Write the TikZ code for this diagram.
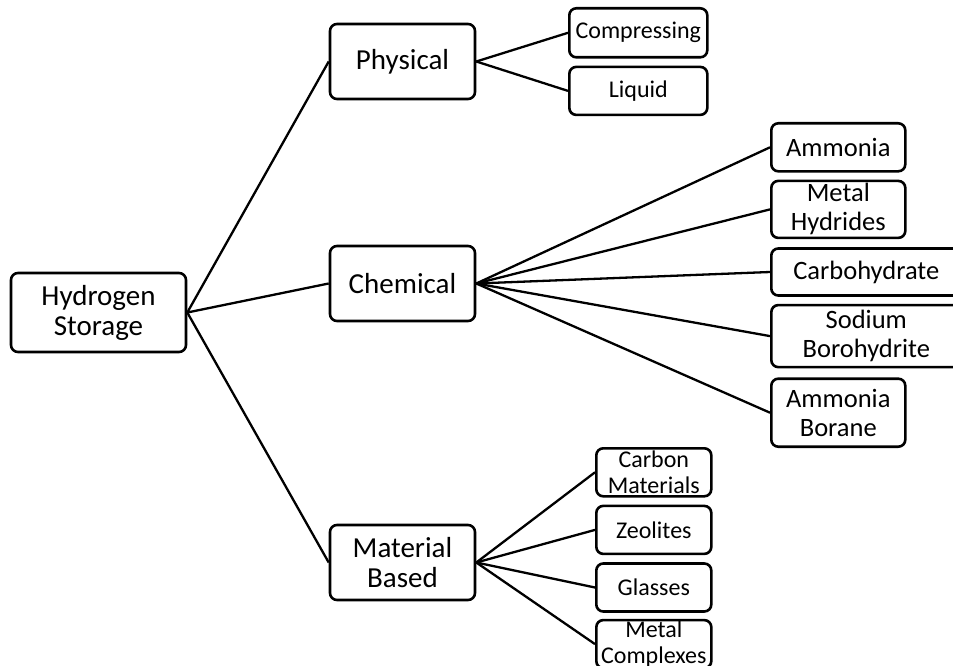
\documentclass[tikz,border=0pt]{standalone}
\usepackage{fontspec}
\setmainfont{Carlito}
\usetikzlibrary{positioning}
\tikzset{
  nodebox/.style={draw, line width=2.6pt, rounded corners=7pt, fill=white,
                  align=center, inner sep=0pt},
  mainbox/.style={nodebox, minimum width=145pt, minimum height=75pt,
                  font=\fontsize{29}{30}\selectfont},
  chembox/.style={nodebox, minimum width=134pt, font=\fontsize{26.5}{29}\selectfont},
  leafbox/.style={nodebox, minimum height=48pt, font=\fontsize{24}{26}\selectfont},
  link/.style={line width=2.3pt},
}

\begin{document}
\begin{tikzpicture}[x=1pt, y=-1pt]
  \useasboundingbox (0,0) rectangle (953,666);

  % root and the three groups
  \node[mainbox, minimum width=175pt, minimum height=79pt] (hs) at (98.5,312.5) {Hydrogen\\Storage};
  \node[mainbox] (phy)  at (402.5,61.5)  {Physical};
  \node[mainbox] (chem) at (402.5,283.5) {Chemical};
  \node[mainbox] (mat)  at (402.5,562.5) {Material\\Based};

  % physical
  \node[leafbox, minimum width=138pt, minimum height=49pt, anchor=north west] (comp) at (568,7) {Compressing};
  \node[leafbox, minimum width=138pt, below=7pt of comp.south west, anchor=north west] (liq) {Liquid};

  % chemical
  \node[chembox, minimum height=48pt, anchor=north west] (amm) at (770,122) {Ammonia};
  \node[chembox, minimum height=57pt, below=7pt of amm.south west, anchor=north west]  (mhyd) {Metal\\Hydrides};
  \node[chembox, minimum width=190pt, minimum height=47pt, below=8pt of mhyd.south west, anchor=north west] (carb) {Carbohydrate};
  \node[chembox, minimum width=190pt, minimum height=62pt, below=7pt of carb.south west, anchor=north west] (sbh) {Sodium\\Borohydrite};
  \node[chembox, minimum height=68pt, below=9pt of sbh.south west, anchor=north west]  (ab) {Ammonia\\Borane};

  % material based
  \node[leafbox, minimum width=115pt, anchor=north west] (cmat) at (595,447) {Carbon\\Materials};
  \node[leafbox, minimum width=115pt, below=7pt of cmat.south west, anchor=north west] (zeo) {Zeolites};
  \node[leafbox, minimum width=115pt, below=7pt of zeo.south west, anchor=north west]  (gls) {Glasses};
  \node[leafbox, minimum width=115pt, below=6pt of gls.south west, anchor=north west]  (mcx) {Metal\\Complexes};

  \draw[link] (hs.east) -- (phy.west);
  \draw[link] (hs.east) -- (chem.west);
  \draw[link] (hs.east) -- (mat.west);

  \draw[link] (phy.east) -- (comp.west);
  \draw[link] (phy.east) -- (liq.west);

  \draw[link] (chem.east) -- (amm.west);
  \draw[link] (chem.east) -- (mhyd.west);
  \draw[link] (chem.east) -- (carb.west);
  \draw[link] (chem.east) -- (sbh.west);
  \draw[link] (chem.east) -- (ab.west);

  \draw[link] (mat.east) -- (cmat.west);
  \draw[link] (mat.east) -- (zeo.west);
  \draw[link] (mat.east) -- (gls.west);
  \draw[link] (mat.east) -- (mcx.west);
\end{tikzpicture}
\end{document}
